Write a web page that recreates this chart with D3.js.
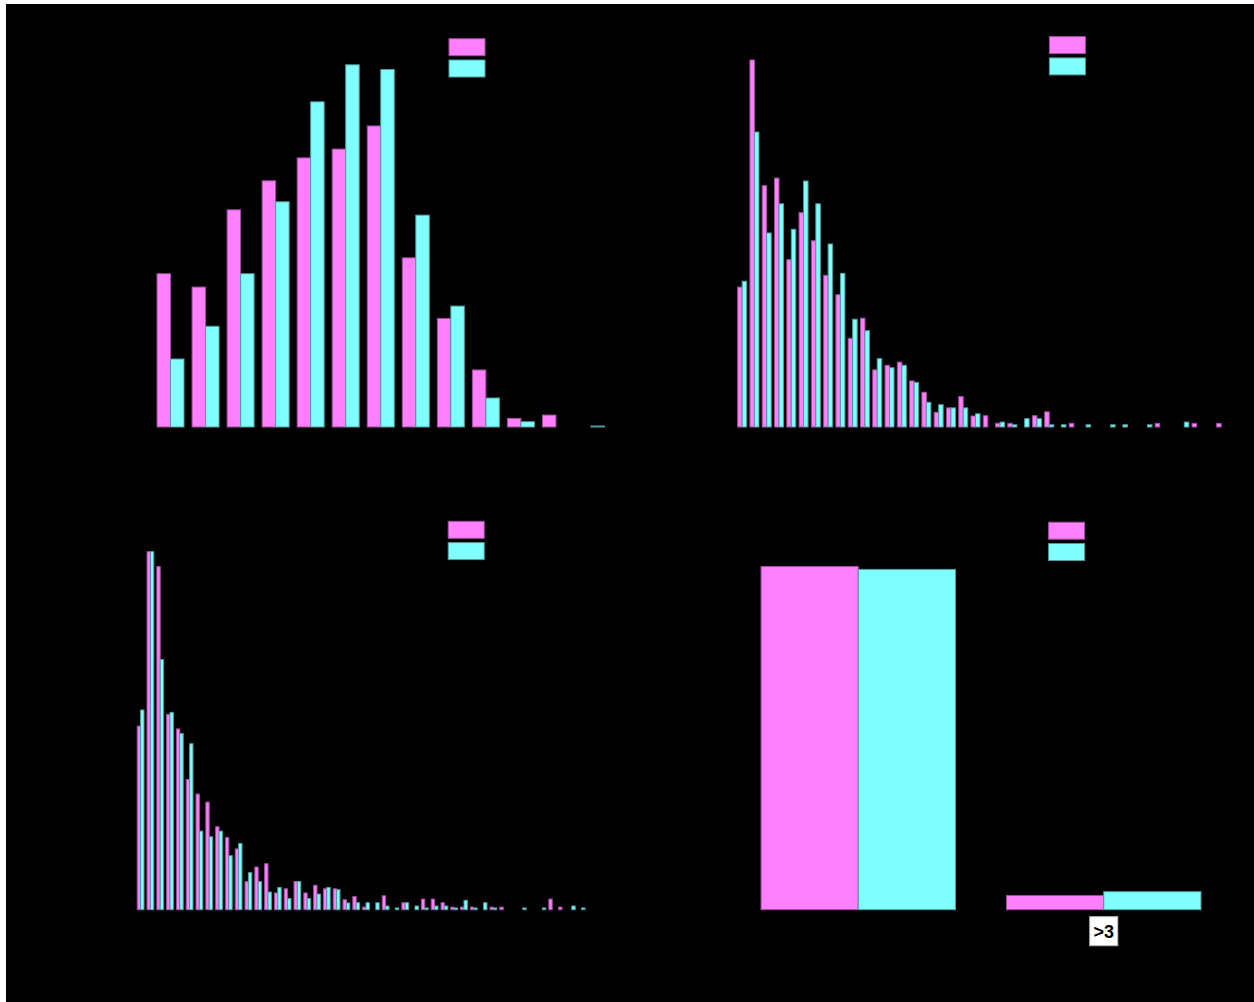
<!DOCTYPE html>
<html>
<head>
<meta charset="utf-8">
<script src="https://cdn.jsdelivr.net/npm/d3@7"></script>
<style>
  html, body { margin: 0; padding: 0; background: #ffffff; }
  svg { display: block; }
</style>
</head>
<body>
<svg id="chart" width="1254" height="1002"></svg>
<script>
// ---- data (share of each group, %) ----
const seriesKeys = ["groupA", "groupB"];
const seriesColors = ["#ff80ff", "#80ffff"];

// panel 1
const catsP1 = d3.range(1, 14);
const p1GroupA = [7.82, 7.14, 11.08, 12.56, 13.73, 14.18, 15.36, 8.63, 5.54, 2.91, 0.44, 0.61, 0];
const p1GroupB = [3.47, 5.14, 7.82, 11.49, 16.59, 18.48, 18.24, 10.81, 6.17, 1.48, 0.27, 0, 0.05];

// panel 2
const catsP2 = d3.range(1, 41);
const p2GroupA = [5.71, 14.98, 9.85, 10.16, 6.83, 8.75, 7.60, 6.19, 5.40, 3.62,
                  4.44, 2.33, 2.52, 2.65, 1.88, 1.42, 0.60, 0.78, 1.24, 0.45,
                  0.46, 0.15, 0.15, 0, 0.46, 0.62, 0, 0.15, 0, 0,
                  0, 0, 0, 0, 0.15, 0, 0, 0.15, 0, 0.15];
const p2GroupB = [5.95, 12.04, 7.92, 9.11, 8.07, 10.04, 9.11, 7.47, 6.27, 4.40,
                  3.93, 2.79, 2.42, 2.52, 1.82, 1.01, 0.91, 0.78, 0.78, 0.54,
                  0, 0.20, 0.09, 0.34, 0.34, 0.09, 0.09, 0, 0.09, 0,
                  0.09, 0.09, 0, 0.09, 0, 0, 0.20, 0, 0, 0];

// panel 3
const catsP3 = d3.range(1, 47);
const p3GroupA = [8.43, 16.44, 15.76, 8.97, 8.30, 5.98, 5.31, 4.94, 3.81, 3.31,
                  2.79, 1.29, 1.96, 2.11, 0.77, 0.96, 1.29, 0.77, 1.12, 0.96,
                  0.96, 0.46, 0.61, 0.12, 0, 0.64, 0, 0.32, 0, 0.49,
                  0.49, 0.32, 0.12, 0.12, 0.12, 0, 0.12, 0.12, 0, 0,
                  0, 0, 0.49, 0.12, 0, 0];
const p3GroupB = [9.17, 16.44, 11.49, 9.06, 8.09, 7.62, 3.61, 3.35, 3.61, 2.48,
                  3.04, 1.70, 1.29, 0.81, 1.02, 0.51, 1.29, 0.51, 0.72, 1.02,
                  0.92, 0.31, 0.32, 0.32, 0.32, 0.17, 0.08, 0.32, 0.17, 0.08,
                  0.17, 0.17, 0.08, 0.43, 0.08, 0.32, 0.08, 0, 0, 0.08,
                  0, 0.08, 0, 0, 0.17, 0.08];

// panel 4
const catsP4 = ["≤3", ">3"];
const p4GroupA = [96.3, 4.0];
const p4GroupB = [95.5, 5.05];
const p4HighlightTick = ">3";

// ---- layout ----
const panels = [
  { cats: catsP1, series: [p1GroupA, p1GroupB], yMax: 20,  xRange: [153, 608.5],    yRange: [427, 35],      padIn: 0.23,  padOut: 0.115, legend: [449, 38.7] },
  { cats: catsP2, series: [p2GroupA, p2GroupB], yMax: 16,  xRange: [736, 1227.3],   yRange: [427, 35],      padIn: 0.267, padOut: 0.133, legend: [1049.4, 36.6] },
  { cats: catsP3, series: [p3GroupA, p3GroupB], yMax: 18,  xRange: [135.7, 586.5],  yRange: [909.7, 517.7], padIn: 0.31,  padOut: 0.155, legend: [448.2, 521.3] },
  { cats: catsP4, series: [p4GroupA, p4GroupB], yMax: 110, xRange: [735.5, 1226.5], yRange: [909.7, 517.7], padIn: 0.208, padOut: 0.104, legend: [1048.6, 522.2], tick: p4HighlightTick }
];

const svg = d3.select("#chart");

// dark canvas behind the four panels
svg.append("rect")
  .attr("x", 6).attr("y", 4)
  .attr("width", 1248).attr("height", 998)
  .attr("fill", "#000000");

const strokeOf = c => d3.color(c).darker(1.4).formatHex();

panels.forEach((p, pi) => {
  const g = svg.append("g").attr("class", "panel panel-" + (pi + 1));

  const x0 = d3.scaleBand()
    .domain(p.cats)
    .range(p.xRange)
    .paddingInner(p.padIn)
    .paddingOuter(p.padOut);

  const x1 = d3.scaleBand()
    .domain(seriesKeys)
    .range([0, x0.bandwidth()]);

  const y = d3.scaleLinear()
    .domain([0, p.yMax])
    .range(p.yRange);

  const rows = [];
  p.cats.forEach((c, i) => {
    seriesKeys.forEach((k, si) => {
      const v = p.series[si][i];
      if (v > 0) rows.push({ cat: c, key: k, si, value: v });
    });
  });

  g.selectAll("rect.bar")
    .data(rows)
    .join("rect")
    .attr("class", "bar")
    .attr("x", d => x0(d.cat) + x1(d.key))
    .attr("width", x1.bandwidth())
    .attr("y", d => y(d.value))
    .attr("height", d => y(0) - y(d.value))
    .attr("fill", d => seriesColors[d.si])
    .attr("stroke", d => strokeOf(seriesColors[d.si]))
    .attr("stroke-width", 1);

  // legend swatches
  const lg = g.append("g").attr("class", "legend")
    .attr("transform", `translate(${p.legend[0]},${p.legend[1]})`);
  lg.selectAll("rect")
    .data(seriesKeys)
    .join("rect")
    .attr("x", 0)
    .attr("y", (d, i) => i * 21.3)
    .attr("width", 36)
    .attr("height", 17)
    .attr("fill", (d, i) => seriesColors[i])
    .attr("stroke", (d, i) => strokeOf(seriesColors[i]))
    .attr("stroke-width", 1);

  // highlighted category tick
  if (p.tick) {
    const cx = x0(p.tick) + x0.bandwidth() / 2;
    const tg = g.append("g").attr("class", "tick-highlight")
      .attr("transform", `translate(${cx},${p.yRange[0] + 7})`);
    tg.append("rect")
      .attr("x", -14).attr("y", 0)
      .attr("width", 28).attr("height", 29)
      .attr("fill", "#ffffff")
      .attr("stroke", "#bdbdbd")
      .attr("stroke-width", 1);
    tg.append("text")
      .attr("x", 0).attr("y", 21)
      .attr("text-anchor", "middle")
      .attr("font-family", "Liberation Sans, Arial, sans-serif")
      .attr("font-size", 18)
      .attr("font-weight", "bold")
      .attr("fill", "#000000")
      .text(p.tick);
  }
});
</script>
</body>
</html>
